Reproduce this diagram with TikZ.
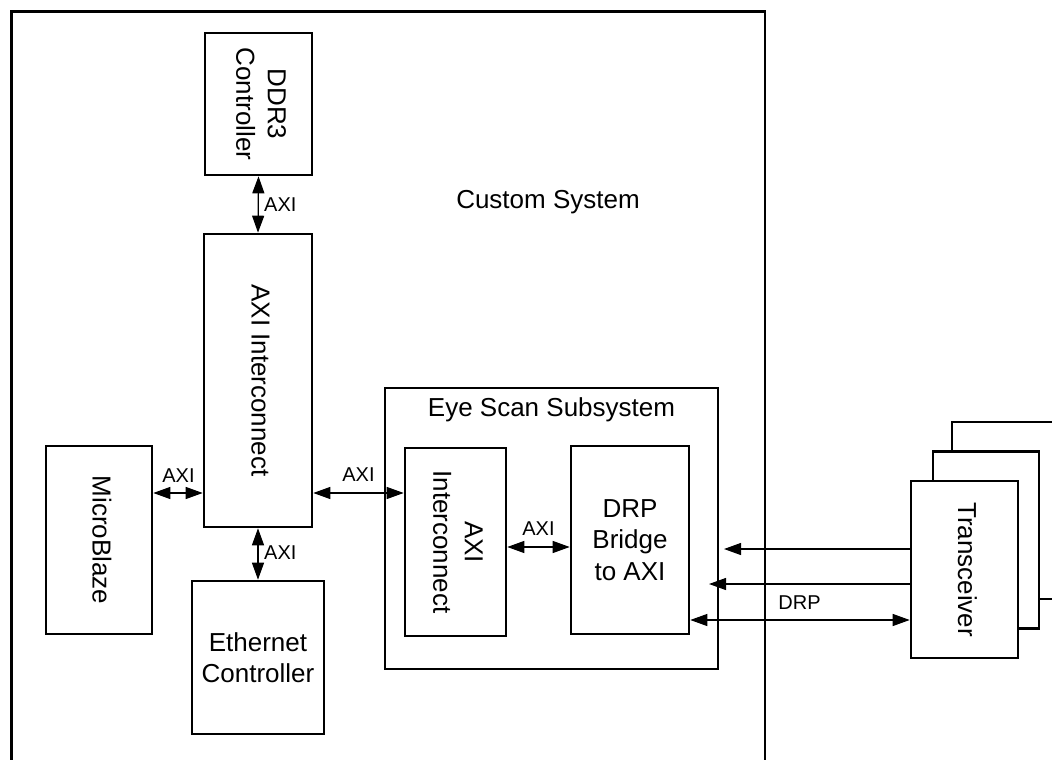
\documentclass[tikz,border=0pt]{standalone}
\usepackage{fontspec}
\setmainfont{Liberation Sans}
\usetikzlibrary{arrows.meta}
% vertical (clockwise rotated) multi-line text for the tall blocks
\newcommand{\vtext}[1]{\rotatebox{-90}{\begin{tabular}{@{}c@{}}#1\end{tabular}}}
\begin{document}
\begin{tikzpicture}[x=1pt,y=-1pt,
  blk/.style={draw, line width=2.6pt, fill=white, inner sep=0pt, align=center,
              font=\fontsize{26}{31.5}\selectfont},
  lbl/.style={inner sep=0pt, font=\fontsize{20}{24}\selectfont},
  title/.style={inner sep=0pt, anchor=base, font=\fontsize{26}{31.5}\selectfont},
  link/.style={line width=1.2pt, {Triangle[length=17pt,width=12pt]}-{Triangle[length=17pt,width=12pt]}},
  feed/.style={line width=1.2pt, -{Triangle[length=17pt,width=12pt]}}]
\useasboundingbox (0,0) rectangle (1052,760);

% custom system frame (open at the bottom)
\draw[line width=2.6pt] (11.5,775) -- (11.5,11.5) -- (765,11.5) -- (765,775);
\node[title] (cs) at (548,208) {Custom System};

% processor side
\node[blk, minimum width=107pt, minimum height=142pt] (ddr) at (258.5,104) {\vtext{DDR3\\Controller}};
\node[blk, minimum width=108pt, minimum height=293pt] (axi) at (258,380.5) {\vtext{AXI Interconnect}};
\node[blk, minimum width=106pt, minimum height=188pt] (mb) at (99,540) {\vtext{MicroBlaze}};
\node[blk, minimum width=132pt, minimum height=153pt] (eth) at (258,657.5) {Ethernet\\Controller};

% eye scan subsystem
\node[draw, line width=2.6pt, minimum width=333pt, minimum height=281pt] (eye) at (551.5,528.5) {};
\node[title] (est) at (551.5,416) {Eye Scan Subsystem};
\node[blk, minimum width=101pt, minimum height=188pt] (iaxi) at (455.5,542) {\vtext{AXI\\Interconnect}};
\node[blk, minimum width=118pt, minimum height=188pt] (drp) at (630,540) {DRP\\Bridge\\to AXI};

% stacked transceivers
\node[blk, minimum width=106pt, minimum height=177pt] (tr3) at (1005,510.5) {};
\node[blk, minimum width=106pt, minimum height=177pt] (tr2) at (986,540) {};
\node[blk, minimum width=107pt, minimum height=177pt] (tr) at (964.5,569.5) {\vtext{Transceiver}};

% AXI links
\draw[link] (ddr.south) -- (axi.north);
\node[lbl, anchor=west] (l1) at (264,204.5) {AXI};
\draw[link] (axi.south) -- (axi.south |- eth.north);
\node[lbl, anchor=west] (l4) at (264,553) {AXI};
\coordinate (ya) at (0,493);
\draw[link] (mb.east |- ya) -- (axi.west |- ya);
\node[lbl] (l2) at (178.5,475.5) {AXI};
\draw[link] (axi.east |- ya) -- (iaxi.west |- ya);
\node[lbl] (l3) at (358.5,475) {AXI};
\coordinate (yb) at (0,547);
\draw[link] (iaxi.east |- yb) -- (drp.west |- yb);
\node[lbl] (l5) at (538.5,529) {AXI};

% transceiver signals
\coordinate (f1) at (724,549);
\draw[feed] (tr.west |- f1) -- (f1);
\coordinate (f2) at (709,584);
\draw[feed] (tr.west |- f2) -- (f2);
\coordinate (yc) at (0,620);
\draw[link] (drp.east |- yc) -- (tr.west |- yc);
\node[lbl] (l6) at (799.5,603) {DRP};
\end{tikzpicture}
\end{document}
